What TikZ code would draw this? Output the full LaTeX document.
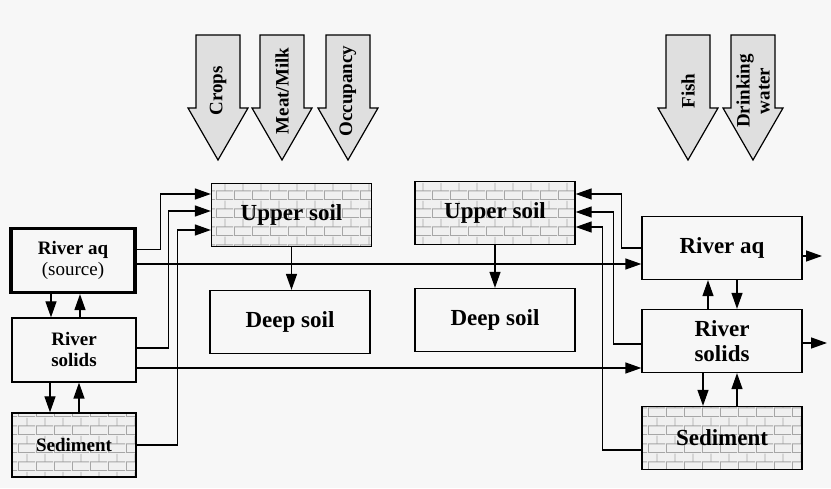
\documentclass[tikz,border=0pt]{standalone}
\usepackage{fontspec}
\setmainfont{Liberation Serif}
\usepackage{xcolor}
\usepackage{tikz}
\usetikzlibrary{arrows.meta,patterns,calc}

% brick texture for the soil and sediment boxes
\pgfdeclarepatternformonly{soilbricks}{\pgfpointorigin}{\pgfpoint{18pt}{18pt}}{\pgfpoint{18pt}{18pt}}{
  \pgfsetlinewidth{0.9pt}
  \pgfpathmoveto{\pgfpoint{0pt}{0.5pt}}\pgfpathlineto{\pgfpoint{18pt}{0.5pt}}
  \pgfpathmoveto{\pgfpoint{0pt}{9.5pt}}\pgfpathlineto{\pgfpoint{18pt}{9.5pt}}
  \pgfpathmoveto{\pgfpoint{0.5pt}{0pt}}\pgfpathlineto{\pgfpoint{0.5pt}{9.5pt}}
  \pgfpathmoveto{\pgfpoint{9.5pt}{9.5pt}}\pgfpathlineto{\pgfpoint{9.5pt}{18pt}}
  \pgfusepath{stroke}}

\tikzset{
  box/.style={draw, line width=1.3pt, minimum width=160pt, minimum height=63pt,
    align=center, font=\fontsize{23}{25}\selectfont\bfseries},
  soil/.style={box, preaction={fill=gray!12}, pattern=soilbricks, pattern color=gray!70},
  leftbox/.style={box, minimum width=124pt, minimum height=64pt,
    font=\fontsize{19}{21}\selectfont\bfseries},
  leftsoil/.style={leftbox, preaction={fill=gray!12}, pattern=soilbricks, pattern color=gray!70},
  flow/.style={line width=1.3pt, -{Triangle[length=16pt,width=11pt]}},
  bigarrow/.style={draw, line width=1.2pt, fill=gray!25},
  arrowlabel/.style={rotate=90, align=center, font=\fontsize{19}{20}\selectfont\bfseries}
}

\begin{document}
\begin{tikzpicture}[x=1pt, y=1pt]
        % Background and bounding box
        \fill[gray!6] (0,0) rectangle (831,488);
        \useasboundingbox (0,0) rectangle (831,488);

        % Exposure pathway arrows
        \foreach \cx/\lbl/\nm in {218/Crops/crops, 282/{Meat/Milk}/meat, 348/Occupancy/occ,
                                  688/Fish/fish, 753/{Drinking\\water}/drink} {
            \draw[bigarrow] (\cx-22,453) -- (\cx+22,453) -- (\cx+22,380) -- (\cx+30,380)
                -- (\cx,328) -- (\cx-30,380) -- (\cx-22,380) -- cycle;
            \node[arrowlabel] (\nm) at (\cx,397) {\lbl};
        }

        % Source column
        \node[leftbox, line width=3.2pt] (srcaq) at (73,227.5) {River aq\\{\mdseries (source)}};
        \node[leftbox] (lsol) at (74,138) {River\\solids};
        \node[leftsoil] (lsed) at (74,43) {Sediment};

        % Soil compartments
        \node[soil] (usoilA) at (291.5,273) {Upper soil};
        \node[box] (dsoilA) at (290,166) {Deep soil};
        \node[soil] (usoilB) at (495,275) {Upper soil};
        \node[box] (dsoilB) at (495,168) {Deep soil};

        % Receiving river
        \node[box] (raq) at (722,240) {River aq};
        \node[box] (rsol) at (722,147) {River\\solids};
        \node[soil] (rsed) at (722,50) {Sediment};

        % Free ends of the outflow arrows
        \coordinate (aqout) at (822,232);
        \coordinate (solout) at (827,145);

        % Source column exchanges
        \draw[flow] ([xshift=-22pt]srcaq.south) coordinate (t1) -- (t1 |- lsol.north);
        \draw[flow] ([xshift=6pt]lsol.north) coordinate (t2) -- (t2 |- srcaq.south);
        \draw[flow] ([xshift=-24pt]lsol.south) coordinate (t3) -- (t3 |- lsed.north);
        \draw[flow] ([xshift=5pt]lsed.north) coordinate (t4) -- (t4 |- lsol.south);

        % Source column to first upper soil
        \draw[flow] ([yshift=11pt]srcaq.east) -- ++(24,0) |- ([yshift=21pt]usoilA.west);
        \draw[flow] ([yshift=2pt]lsol.east) -- ++(32,0) |- ([yshift=4pt]usoilA.west);
        \draw[flow] (lsed.east) -- ++(41,0) |- ([yshift=-15pt]usoilA.west);

        % Source column to receiving river
        \draw[flow] ([yshift=-3.5pt]srcaq.east) coordinate (h1) -- (h1 -| raq.west);
        \draw[flow] ([yshift=-18pt]lsol.east) coordinate (h2) -- (h2 -| rsol.west);

        % Upper soil to deep soil
        \draw[flow] (usoilA.south) -- (usoilA.south |- dsoilA.north);
        \draw[flow] (usoilB.south) -- (usoilB.south |- dsoilB.north);

        % Receiving river to second upper soil
        \draw[flow] (raq.west) -- ++(-20,0) |- ([yshift=19pt]usoilB.east);
        \draw[flow] ([yshift=-3pt]rsol.west) -- ++(-28,0) |- ([yshift=1pt]usoilB.east);
        \draw[flow] ([yshift=-12pt]rsed.west) -- ++(-39,0) |- ([yshift=-14pt]usoilB.east);

        % Receiving river exchanges
        \draw[flow] ([xshift=-14pt]rsol.north) coordinate (t5) -- (t5 |- raq.south);
        \draw[flow] ([xshift=15pt]raq.south) coordinate (t6) -- (t6 |- rsol.north);
        \draw[flow] ([xshift=-19pt]rsol.south) coordinate (t7) -- (t7 |- rsed.north);
        \draw[flow] ([xshift=15pt]rsed.north) coordinate (t8) -- (t8 |- rsol.south);

        % Outflows
        \draw[flow] (raq.east |- aqout) -- (aqout);
        \draw[flow] (rsol.east |- solout) -- (solout);
    \end{tikzpicture}
\end{document}
